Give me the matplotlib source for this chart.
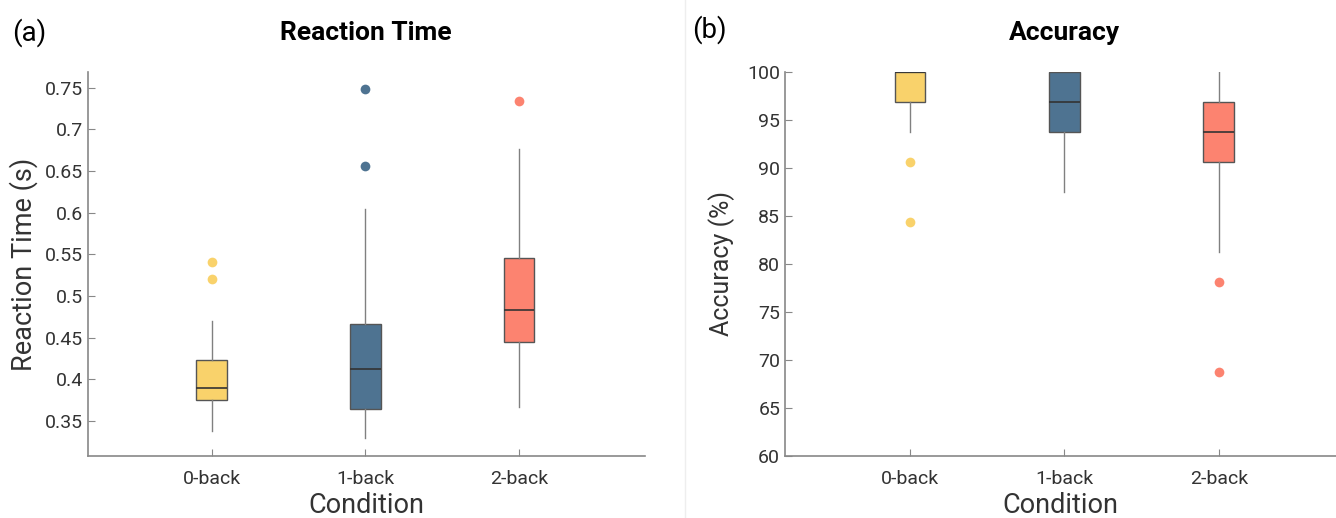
import matplotlib.pyplot as plt
from matplotlib.lines import Line2D
import matplotlib.transforms as mtransforms

plt.rcParams['font.family'] = ['Roboto', 'DejaVu Sans']

conditions = ['0-back', '1-back', '2-back']
colors = ['#F9D26B', '#4E7391', '#FC8370']

# reaction time (s): whisker low, q1, median, q3, whisker high
rt_low = [0.338, 0.330, 0.367]
rt_q1 = [0.375, 0.364, 0.445]
rt_med = [0.390, 0.412, 0.483]
rt_q3 = [0.423, 0.466, 0.546]
rt_high = [0.470, 0.604, 0.677]
rt_out = [[0.541, 0.521], [0.748, 0.656], [0.734]]

# accuracy (%)
acc_low = [93.75, 87.5, 81.25]
acc_q1 = [96.9, 93.75, 90.6]
acc_med = [100.0, 96.9, 93.75]
acc_q3 = [100.0, 100.0, 96.9]
acc_high = [100.0, 100.0, 100.0]
acc_out = [[90.6, 84.4], [], [78.1, 68.75]]


def make_stats(low, q1, med, q3, high, out):
    st = []
    for i in range(len(low)):
        st.append(dict(whislo=low[i], q1=q1[i], med=med[i], q3=q3[i],
                       whishi=high[i], fliers=out[i]))
    return st


def draw(ax, stats):
    pos = [1, 2, 3]
    bp = ax.bxp(stats, positions=pos, widths=0.2, patch_artist=True,
                showcaps=False,
                boxprops=dict(edgecolor='#555555', linewidth=1.0),
                medianprops=dict(color='#333333', linewidth=1.2),
                whiskerprops=dict(color='#808080', linewidth=1.0),
                flierprops=dict(marker='o', markersize=7, markeredgewidth=0))
    for i, b in enumerate(bp['boxes']):
        b.set_facecolor(colors[i])
        bp['fliers'][i].set_markerfacecolor(colors[i])
        bp['fliers'][i].set_markeredgecolor(colors[i])
    ax.set_xticks(pos)
    ax.set_xticklabels(conditions)
    for s in ['top', 'right']:
        ax.spines[s].set_visible(False)
    for s in ['left', 'bottom']:
        ax.spines[s].set_color('#888888')
        ax.spines[s].set_linewidth(1.2)
    ax.tick_params(direction='in', length=5, color='#888888',
                   labelsize=14, labelcolor='#333333')
    ax.tick_params(axis='x', pad=10)
    ax.set_xlabel('Condition', fontsize=19.5, color='#333333')
    ax.xaxis.set_label_coords(0.5, -0.095)
    # title centred over the middle condition
    tr = mtransforms.blended_transform_factory(ax.transData, fig.transFigure)
    return tr


fig = plt.figure(figsize=(13.36, 5.18), dpi=100)

ax1 = fig.add_axes([88 / 1336, 62 / 518, 557 / 1336, 384 / 518])
tr1 = draw(ax1, make_stats(rt_low, rt_q1, rt_med, rt_q3, rt_high, rt_out))
ax1.set_xlim(0.195, 3.82)
ax1.set_ylim(0.308, 0.769)
ax1.set_yticks([0.35, 0.4, 0.45, 0.5, 0.55, 0.6, 0.65, 0.7, 0.75])
ax1.set_yticklabels(['0.35', '0.4', '0.45', '0.5', '0.55', '0.6', '0.65', '0.7', '0.75'])
ax1.set_ylabel('Reaction Time (s)', fontsize=19.5, color='#333333')
ax1.yaxis.set_label_coords(-0.089, 0.5)
ax1.text(2, 1 - 33 / 518, 'Reaction Time', transform=tr1, ha='center',
         va='center', fontsize=19, fontweight='bold')

ax2 = fig.add_axes([785 / 1336, 62 / 518, 551 / 1336, 384 / 518])
tr2 = draw(ax2, make_stats(acc_low, acc_q1, acc_med, acc_q3, acc_high, acc_out))
ax2.set_xlim(0.19, 3.76)
ax2.set_ylim(60, 100)
ax2.set_yticks([60, 65, 70, 75, 80, 85, 90, 95, 100])
ax2.set_ylabel('Accuracy (%)', fontsize=18, color='#333333')
ax2.yaxis.set_label_coords(-0.091, 0.5)
ax2.text(2, 1 - 33 / 518, 'Accuracy', transform=tr2, ha='center',
         va='center', fontsize=19, fontweight='bold')

fig.text(12 / 1336, 1 - 33 / 518, '(a)', fontsize=20, va='center')
fig.text(692 / 1336, 1 - 30 / 518, '(b)', fontsize=20, va='center')
fig.add_artist(Line2D([685 / 1336, 685 / 1336], [0.0, 1.0], color='#eeeeee', linewidth=1))

fig.savefig('out.png', dpi=100)
